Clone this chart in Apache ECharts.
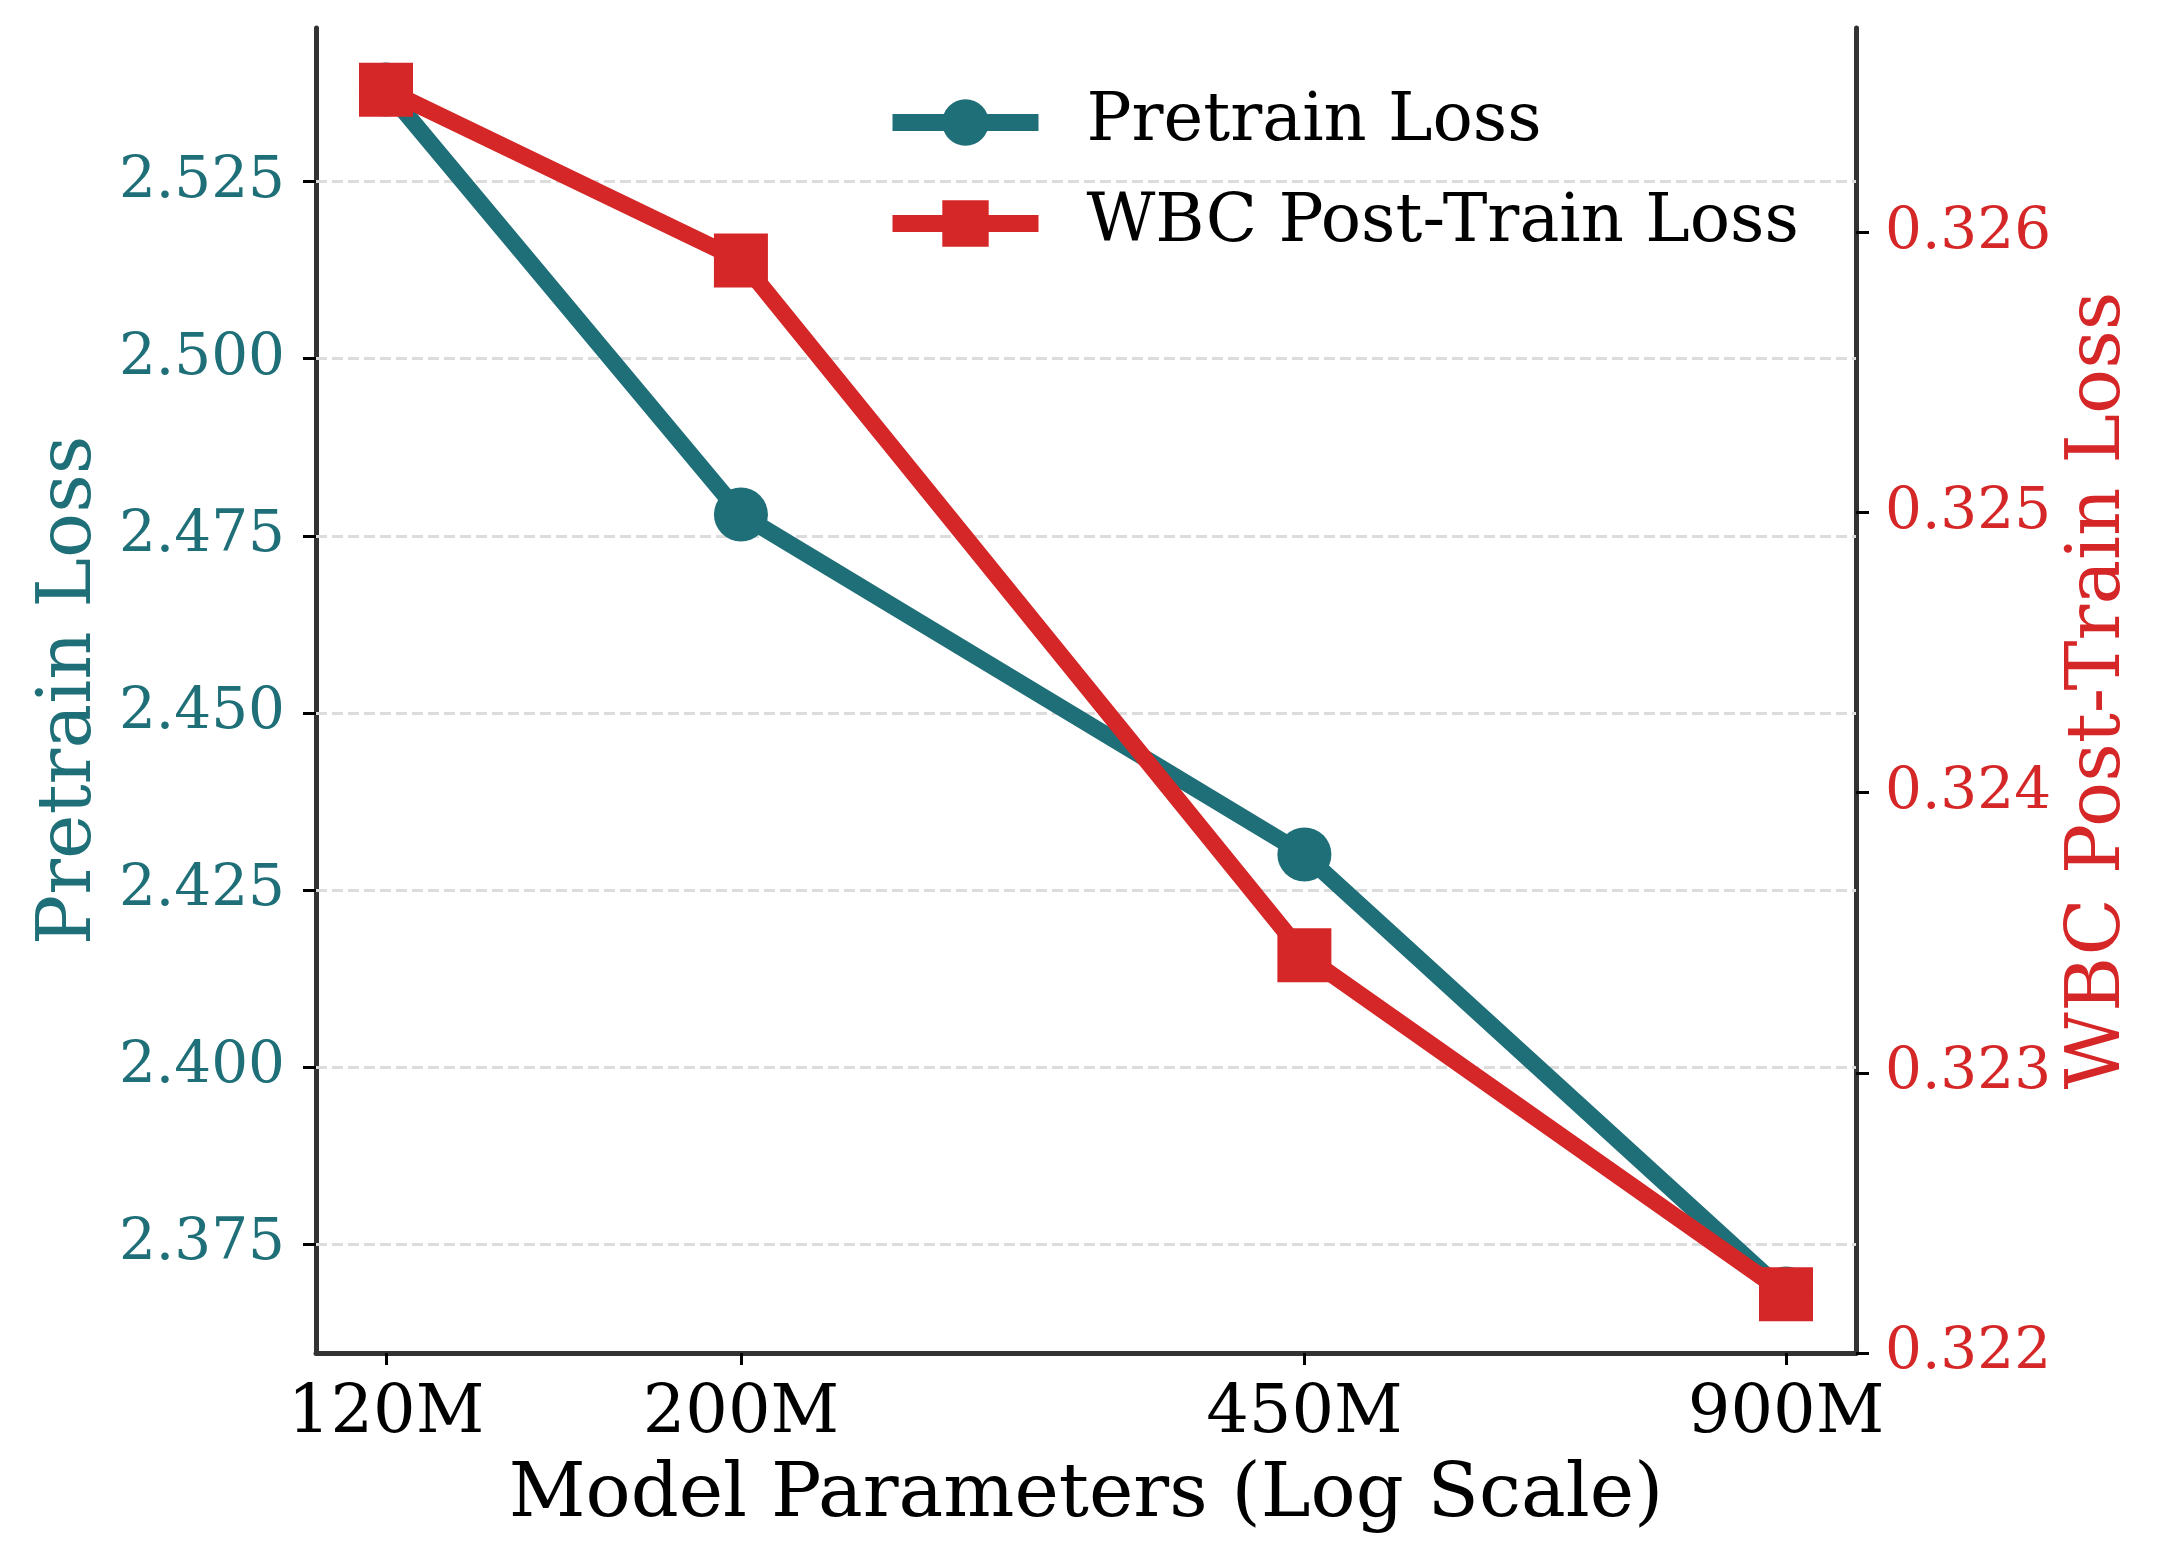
<!DOCTYPE html>
<html>
<head>
<meta charset="utf-8">
<script src="https://cdn.jsdelivr.net/npm/echarts@6/dist/echarts.min.js"></script>
<style>
  html, body { margin: 0; padding: 0; background: #fff; }
  #chart { width: 2172px; height: 1568px; }
</style>
</head>
<body>
<div id="chart"></div>
<script>
// model sizes (millions of params) and tick labels
const modelSizes = [120, 200, 450, 900];
const xTickLabels = ['120M', '200M', '450M', '900M'];

// losses
const pretrainLoss = [2.538, 2.478, 2.430, 2.368];
const wbcLoss = [0.32651, 0.32590, 0.32342, 0.32221];

// axis ticks
const leftTicks = [2.375, 2.400, 2.425, 2.450, 2.475, 2.500, 2.525];
const rightTicks = [0.322, 0.323, 0.324, 0.325, 0.326];

const TEAL = '#1f6f78';
const RED = '#d62728';
const FONT = 'DejaVu Serif';

const logX = modelSizes.map(v => Math.log10(v));
const xPad = (logX[logX.length - 1] - logX[0]) * 0.05;

const chart = echarts.init(document.getElementById('chart'));

const option = {
  animation: false,
  backgroundColor: '#ffffff',
  textStyle: { fontFamily: FONT },
  grid: { left: 316, right: 316, top: 28, bottom: 215, containLabel: false },
  legend: {
    orient: 'vertical',
    left: 879,
    top: 84,
    itemWidth: 146,
    itemHeight: 58,
    itemGap: 34,
    lineStyle: { width: 17 },
    textStyle: { fontFamily: FONT, fontSize: 67, color: '#000', padding: [0, 0, 0, 43] },
    data: ['Pretrain Loss', 'WBC Post-Train Loss']
  },
  xAxis: {
    type: 'value',
    min: logX[0] - xPad,
    max: logX[logX.length - 1] + xPad,
    name: 'Model Parameters (Log Scale)',
    nameLocation: 'middle',
    nameGap: 106,
    nameTextStyle: { fontFamily: FONT, fontSize: 75, color: '#000' },
    axisLine: { show: true, lineStyle: { color: '#333', width: 5 } },
    axisTick: { show: true, length: 12, customValues: logX, lineStyle: { color: '#000', width: 3 } },
    axisLabel: {
      customValues: logX,
      margin: 28,
      fontFamily: FONT,
      fontSize: 67,
      color: '#000',
      formatter: function (v) {
        let best = 0;
        logX.forEach((lx, i) => { if (Math.abs(lx - v) < Math.abs(logX[best] - v)) best = i; });
        return xTickLabels[best];
      }
    },
    splitLine: { show: false }
  },
  yAxis: [
    {
      type: 'value',
      position: 'left',
      min: 2.3596,
      max: 2.5467,
      name: 'Pretrain Loss',
      nameLocation: 'middle',
      nameRotate: 90,
      nameGap: 205,
      nameTextStyle: { fontFamily: FONT, fontSize: 75, color: TEAL },
      axisLine: { show: true, lineStyle: { color: '#333', width: 5 } },
      axisTick: { show: true, length: 13, customValues: leftTicks, lineStyle: { color: '#000', width: 3 } },
      axisLabel: {
        customValues: leftTicks,
        margin: 31,
        fontFamily: FONT,
        fontSize: 58,
        color: TEAL,
        formatter: v => v.toFixed(3)
      },
      splitLine: { show: false }
    },
    {
      type: 'value',
      position: 'right',
      min: 0.322,
      max: 0.32673,
      name: 'WBC Post-Train Loss',
      nameLocation: 'middle',
      nameRotate: 90,
      nameGap: 204,
      nameTextStyle: { fontFamily: FONT, fontSize: 75, color: RED },
      axisLine: { show: true, lineStyle: { color: '#333', width: 5 } },
      axisTick: { show: true, length: 13, customValues: rightTicks, lineStyle: { color: '#000', width: 3 } },
      axisLabel: {
        customValues: rightTicks,
        margin: 29,
        fontFamily: FONT,
        fontSize: 58,
        color: RED,
        formatter: v => v.toFixed(3)
      },
      splitLine: { show: false }
    }
  ],
  series: [
    {
      name: 'Pretrain Loss',
      type: 'line',
      yAxisIndex: 0,
      data: logX.map((x, i) => [x, pretrainLoss[i]]),
      symbol: 'circle',
      symbolSize: 54,
      lineStyle: { color: TEAL, width: 16.7 },
      itemStyle: { color: TEAL },
      z: 3,
      // dashed horizontal grid at the left-axis ticks
      markLine: {
        silent: true,
        precision: 4,
        symbol: ['none', 'none'],
        label: { show: false },
        lineStyle: { color: '#dcdcdc', type: [11, 5], width: 3 },
        z: 1,
        data: leftTicks.map(v => ({ yAxis: v }))
      }
    },
    {
      name: 'WBC Post-Train Loss',
      type: 'line',
      yAxisIndex: 1,
      data: logX.map((x, i) => [x, wbcLoss[i]]),
      symbol: 'rect',
      symbolSize: 54,
      lineStyle: { color: RED, width: 16.7 },
      itemStyle: { color: RED },
      z: 4
    }
  ]
};

chart.setOption(option);
</script>
</body>
</html>
